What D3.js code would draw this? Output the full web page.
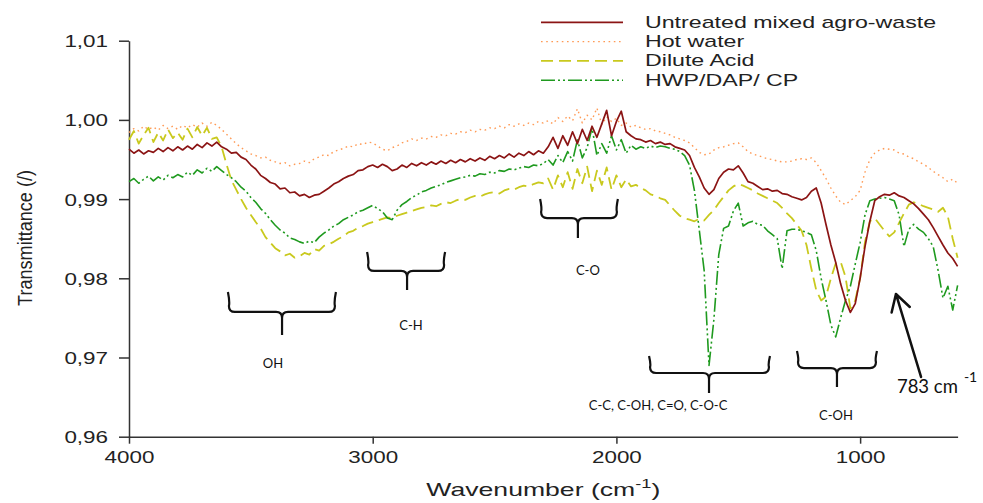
<!DOCTYPE html>
<html>
<head>
<meta charset="utf-8">
<script src="https://cdn.jsdelivr.net/npm/d3@7"></script>
<style>
  body { margin: 0; background: #fff; }
  svg { display: block; }
</style>
</head>
<body>
<svg id="chart" width="983" height="503"></svg>
<script>
// FTIR spectra of mixed agro-waste, sampled every 20 cm-1 from 4000 to 600 cm-1
const waveStart = 4000, waveEnd = 600, waveStep = 20;
const wavenumbers = d3.range(waveStart, waveEnd - 1, -waveStep);

const seriesNames = ["Untreated mixed agro-waste", "Hot water", "Dilute Acid", "HWP/DAP/ CP"];

const untreated = [
  0.9963,0.9958,0.9962,0.9957,0.9961,0.9959,0.9964,0.9960,0.9965,0.9961,
  0.9966,0.9962,0.9967,0.9963,0.9969,0.9965,0.9971,0.9967,0.9972,0.9966,
  0.9963,0.9958,0.9959,0.9953,0.9950,0.9943,0.9938,0.9930,0.9926,0.9921,
  0.9919,0.9913,0.9914,0.9908,0.9909,0.9904,0.9906,0.9902,0.9905,0.9906,
  0.9910,0.9914,0.9919,0.9922,0.9926,0.9929,0.9931,0.9936,0.9937,0.9941,
  0.9943,0.9940,0.9944,0.9941,0.9936,0.9938,0.9943,0.9940,0.9945,0.9942,
  0.9946,0.9943,0.9947,0.9944,0.9948,0.9945,0.9949,0.9946,0.9950,0.9947,
  0.9951,0.9948,0.9952,0.9949,0.9954,0.9951,0.9955,0.9952,0.9957,0.9953,
  0.9958,0.9955,0.9960,0.9956,0.9961,0.9958,0.9966,0.9978,0.9964,0.9980,
  0.9968,0.9985,0.9970,0.9988,0.9974,0.9992,0.9978,0.9995,1.0012,0.9980,
  0.9998,1.0011,0.9985,0.9980,0.9976,0.9975,0.9972,0.9974,0.9970,0.9972,
  0.9969,0.9970,0.9966,0.9964,0.9962,0.9955,0.9940,0.9928,0.9914,0.9906,
  0.9912,0.9926,0.9934,0.9938,0.9937,0.9942,0.9933,0.9922,0.9920,0.9916,
  0.9912,0.9913,0.9910,0.9911,0.9907,0.9906,0.9903,0.9901,0.9899,0.9902,
  0.9910,0.9914,0.9895,0.9868,0.9842,0.9820,0.9793,0.9772,0.9757,0.9768,
  0.9800,0.9840,0.9872,0.9898,0.9903,0.9906,0.9905,0.9908,0.9904,0.9902,
  0.9898,0.9894,0.9888,0.9881,0.9874,0.9864,0.9853,0.9842,0.9832,0.9825,
  0.9815
];

const hotWater = [
  0.9984,0.9989,0.9986,0.9992,0.9988,0.9991,0.9987,0.9993,0.9989,0.9992,
  0.9988,0.9993,0.9990,0.9994,0.9991,0.9996,0.9992,0.9997,0.9993,0.9988,
  0.9982,0.9976,0.9970,0.9965,0.9961,0.9957,0.9955,0.9952,0.9953,0.9949,
  0.9947,0.9945,0.9946,0.9942,0.9944,0.9945,0.9948,0.9946,0.9951,0.9953,
  0.9956,0.9955,0.9960,0.9962,0.9964,0.9967,0.9966,0.9970,0.9969,0.9972,
  0.9971,0.9967,0.9963,0.9961,0.9965,0.9967,0.9971,0.9973,0.9976,0.9974,
  0.9977,0.9976,0.9979,0.9978,0.9981,0.9980,0.9983,0.9982,0.9985,0.9984,
  0.9987,0.9985,0.9988,0.9987,0.9990,0.9989,0.9992,0.9990,0.9994,0.9992,
  0.9995,0.9993,0.9996,0.9994,0.9998,0.9996,0.9999,0.9995,1.0003,0.9998,
  1.0005,0.9999,1.0014,0.9996,1.0006,1.0000,1.0015,0.9994,1.0004,0.9998,
  1.0002,0.9993,0.9996,0.9991,0.9993,0.9990,0.9988,0.9989,0.9986,0.9985,
  0.9983,0.9981,0.9978,0.9976,0.9974,0.9971,0.9965,0.9959,0.9956,0.9957,
  0.9962,0.9965,0.9966,0.9968,0.9970,0.9971,0.9966,0.9960,0.9957,0.9955,
  0.9953,0.9951,0.9950,0.9948,0.9947,0.9947,0.9948,0.9950,0.9951,0.9950,
  0.9952,0.9946,0.9936,0.9926,0.9914,0.9904,0.9896,0.9893,0.9898,0.9903,
  0.9911,0.9934,0.9950,0.9958,0.9962,0.9964,0.9963,0.9962,0.9958,0.9957,
  0.9953,0.9951,0.9947,0.9944,0.9940,0.9935,0.9931,0.9927,0.9922,0.9925,
  0.9920
];

const diluteAcid = [
  0.9975,0.9986,0.9970,0.9981,0.9990,0.9972,0.9984,0.9974,0.9988,0.9977,
  0.9984,0.9975,0.9989,0.9978,0.9991,0.9980,0.9990,0.9976,0.9978,0.9966,
  0.9944,0.9924,0.9912,0.9900,0.9889,0.9880,0.9871,0.9863,0.9852,0.9845,
  0.9838,0.9834,0.9829,0.9831,0.9826,0.9828,0.9832,0.9830,0.9837,0.9835,
  0.9841,0.9843,0.9846,0.9850,0.9853,0.9858,0.9860,0.9864,0.9866,0.9869,
  0.9871,0.9873,0.9875,0.9877,0.9876,0.9879,0.9881,0.9883,0.9885,0.9887,
  0.9889,0.9890,0.9892,0.9891,0.9894,0.9896,0.9895,0.9898,0.9900,0.9899,
  0.9902,0.9904,0.9903,0.9906,0.9908,0.9909,0.9907,0.9911,0.9913,0.9912,
  0.9915,0.9917,0.9916,0.9919,0.9921,0.9920,0.9926,0.9912,0.9930,0.9915,
  0.9934,0.9913,0.9938,0.9920,0.9941,0.9910,0.9936,0.9918,0.9940,0.9912,
  0.9930,0.9915,0.9925,0.9916,0.9918,0.9914,0.9911,0.9906,0.9904,0.9901,
  0.9899,0.9892,0.9885,0.9879,0.9876,0.9874,0.9872,0.9875,0.9873,0.9880,
  0.9886,0.9895,0.9903,0.9911,0.9916,0.9919,0.9917,0.9914,0.9911,0.9907,
  0.9904,0.9901,0.9898,0.9895,0.9889,0.9882,0.9876,0.9868,0.9860,0.9842,
  0.9812,0.9785,0.9772,0.9777,0.9800,0.9819,0.9821,0.9802,0.9762,0.9772,
  0.9800,0.9846,0.9872,0.9876,0.9868,0.9860,0.9853,0.9858,0.9870,0.9882,
  0.9893,0.9896,0.9894,0.9891,0.9889,0.9887,0.9884,0.9889,0.9878,0.9850,
  0.9826
];

const hwpDapCp = [
  0.9922,0.9926,0.9920,0.9925,0.9929,0.9923,0.9928,0.9924,0.9930,0.9927,
  0.9931,0.9928,0.9934,0.9930,0.9937,0.9933,0.9939,0.9935,0.9941,0.9936,
  0.9931,0.9927,0.9922,0.9915,0.9910,0.9902,0.9896,0.9888,0.9882,0.9874,
  0.9867,0.9861,0.9857,0.9851,0.9849,0.9846,0.9844,0.9847,0.9845,0.9852,
  0.9857,0.9861,0.9866,0.9869,0.9874,0.9877,0.9880,0.9884,0.9886,0.9889,
  0.9892,0.9888,0.9884,0.9876,0.9874,0.9886,0.9893,0.9897,0.9902,0.9905,
  0.9909,0.9911,0.9914,0.9916,0.9918,0.9921,0.9923,0.9925,0.9927,0.9928,
  0.9930,0.9929,0.9932,0.9931,0.9934,0.9933,0.9936,0.9935,0.9938,0.9937,
  0.9939,0.9941,0.9940,0.9943,0.9942,0.9945,0.9950,0.9943,0.9955,0.9946,
  0.9960,0.9948,0.9975,0.9952,0.9965,0.9990,0.9955,0.9970,0.9958,0.9980,
  0.9962,0.9975,0.9958,0.9968,0.9963,0.9966,0.9964,0.9967,0.9965,0.9967,
  0.9966,0.9964,0.9963,0.9960,0.9955,0.9943,0.9911,0.9861,0.9810,0.9690,
  0.9748,0.9830,0.9863,0.9866,0.9885,0.9895,0.9866,0.9870,0.9872,0.9868,
  0.9867,0.9860,0.9855,0.9850,0.9812,0.9860,0.9862,0.9862,0.9860,0.9858,
  0.9855,0.9835,0.9800,0.9772,0.9741,0.9726,0.9750,0.9772,0.9790,0.9818,
  0.9845,0.9880,0.9898,0.9900,0.9901,0.9902,0.9900,0.9898,0.9880,0.9840,
  0.9862,0.9868,0.9862,0.9858,0.9850,0.9840,0.9810,0.9775,0.9790,0.9760,
  0.9791
];

const xTicks = [4000, 3000, 2000, 1000];
const yTicks = [0.96, 0.97, 0.98, 0.99, 1.00, 1.01];
const yTickLabels = ["0,96", "0,97", "0,98", "0,99", "1,00", "1,01"];

// Band assignments: bracket span (cm-1), bracket centre, levels [top, bar, tip], label and label anchor
const bandSpans = [[3590, 3155], [3019, 2707], [2309, 1998], [1862, 1374], [1255, 935]];
const bandCentres = [3372, 2859, 2158, 1620, 1095];
const bandLevels = [
  [0.97827, 0.97575, 0.97284],
  [0.98332, 0.98093, 0.97853],
  [0.99001, 0.98761, 0.98509],
  [0.97019, 0.96804, 0.96552],
  [0.97082, 0.96867, 0.96627]
];
const bandLabels = ["OH", "C-H", "C-O", "C-C, C-OH, C=O, C-O-C", "C-OH"];
const bandLabelAt = [[3409, 0.96867], [2843, 0.97347], [2117, 0.98042], [1829, 0.96337], [1099, 0.96211]];

// Pointer to the 783 cm-1 band
const peakLabel = "783 cm";
const peakLabelAt = [849, 0.96552];
const arrowTip = [853, 0.97802];
const arrowTail = [750, 0.96754];

const svg = d3.select("#chart");
const FONT = "'Liberation Sans', Arial, sans-serif";
const NOTE_FONT = "Lato, 'Open Sans', sans-serif";
const SX = 1.4; // horizontal stretch of the axis and legend lettering

const x = d3.scaleLinear().domain([waveStart, waveEnd]).range([129, 957.6]);
const y = d3.scaleLinear().domain([0.96, 1.01]).range([436.7, 40.7]);

svg.append("rect").attr("width", 983).attr("height", 503).attr("fill", "#fff");

// Axes
const gx = svg.append("g")
  .attr("transform", `translate(0,${y(0.96)})`)
  .call(d3.axisBottom(x).tickValues(xTicks).tickSize(7).tickSizeOuter(0).tickFormat(d3.format("d")));
gx.selectAll("text")
  .attr("y", null).attr("dy", null)
  .attr("transform", `translate(0,26.5) scale(${SX},1)`)
  .attr("font-size", 16).attr("font-family", FONT).attr("fill", "#222");

const gy = svg.append("g")
  .attr("transform", `translate(${x(waveStart)},0)`)
  .call(d3.axisLeft(y).tickValues(yTicks).tickSize(10).tickSizeOuter(0)
    .tickFormat((d, i) => yTickLabels[i]));
gy.selectAll("text")
  .attr("x", null).attr("dy", null)
  .attr("transform", `translate(-21,6) scale(${SX},1)`)
  .attr("font-size", 16).attr("font-family", FONT).attr("fill", "#222");

[gx, gy].forEach(g => {
  g.selectAll("path.domain, line").attr("stroke", "#333").attr("stroke-width", 1.5);
});

// Axis titles
const xTitle = svg.append("text")
  .attr("transform", `translate(${(x(waveStart) + x(waveEnd)) / 2},496) scale(${SX},1)`)
  .attr("text-anchor", "middle")
  .attr("font-family", FONT).attr("font-size", 19).attr("fill", "#222");
xTitle.append("tspan").text("Wavenumber (cm");
xTitle.append("tspan").attr("font-size", 13).attr("dy", -8).text("-1");
xTitle.append("tspan").attr("dy", 8).text(")");

svg.append("text")
  .attr("transform", `translate(32,238) rotate(-90) scale(1.13,1.25)`)
  .attr("text-anchor", "middle")
  .attr("font-family", FONT).attr("font-size", 16).attr("fill", "#222")
  .text("Transmittance (/)");

// Spectra
const seriesValues = [untreated, hotWater, diluteAcid, hwpDapCp];
const seriesColors = ["#8b1414", "#ff9a55", "#c9c91e", "#1f9a1f"];
const seriesDash = [null, "1.6,3.6", "12,6", "14,3,2,3,2,3"];
const seriesWidth = [1.7, 1.4, 1.8, 1.6];
const drawOrder = [1, 2, 3, 0];

const line = d3.line()
  .x((d, i) => x(wavenumbers[i]))
  .y(d => y(d));

drawOrder.forEach(k => {
  svg.append("path")
    .datum(seriesValues[k])
    .attr("d", line)
    .attr("fill", "none")
    .attr("stroke", seriesColors[k])
    .attr("stroke-width", seriesWidth[k])
    .attr("stroke-dasharray", seriesDash[k])
    .attr("stroke-linejoin", "round");
});

// Legend
const legend = svg.append("g");
seriesNames.forEach((name, k) => {
  const ly = 22.3 + 19.3 * k;
  legend.append("line")
    .attr("x1", 541).attr("x2", 623).attr("y1", ly).attr("y2", ly)
    .attr("stroke", seriesColors[k])
    .attr("stroke-width", seriesWidth[k])
    .attr("stroke-dasharray", seriesDash[k]);
  legend.append("text")
    .attr("transform", `translate(645,${ly + 5.5}) scale(1.45,1)`)
    .attr("font-family", FONT).attr("font-size", 16).attr("fill", "#222")
    .text(name);
});

// Band brackets
const notes = svg.append("g");
bandSpans.forEach((span, k) => {
  const x1 = x(span[0]), x2 = x(span[1]), xc = x(bandCentres[k]);
  const [top, bar, tip] = bandLevels[k].map(y);
  const r = 6;
  const p = d3.path();
  p.moveTo(x1 - 1, top);
  p.quadraticCurveTo(x1 + 1, top + (bar - top) * 0.5, x1, bar - r);
  p.quadraticCurveTo(x1, bar, x1 + r, bar);
  p.lineTo(xc - r, bar);
  p.quadraticCurveTo(xc, bar, xc, bar + r);
  p.lineTo(xc, tip);
  p.moveTo(xc, bar + r);
  p.quadraticCurveTo(xc, bar, xc + r, bar);
  p.lineTo(x2 - r, bar);
  p.quadraticCurveTo(x2, bar, x2, bar - r);
  p.quadraticCurveTo(x2 - 1, top + (bar - top) * 0.5, x2 + 1, top);
  notes.append("path")
    .attr("d", p.toString())
    .attr("fill", "none").attr("stroke", "#111").attr("stroke-width", 2.2);
  notes.append("text")
    .attr("x", x(bandLabelAt[k][0])).attr("y", y(bandLabelAt[k][1]))
    .attr("text-anchor", "middle")
    .attr("font-family", NOTE_FONT).attr("font-size", 13).attr("fill", "#111")
    .text(bandLabels[k]);
});

// Arrow to the 783 cm-1 band
const tip = [x(arrowTip[0]), y(arrowTip[1])];
const tail = [x(arrowTail[0]), y(arrowTail[1])];
const ang = Math.atan2(tail[1] - tip[1], tail[0] - tip[0]);
const barb = 19, spread = Math.PI / 6;
const ap = d3.path();
ap.moveTo(tail[0], tail[1]);
ap.lineTo(tip[0], tip[1]);
ap.moveTo(tip[0] + barb * Math.cos(ang - spread), tip[1] + barb * Math.sin(ang - spread));
ap.lineTo(tip[0], tip[1]);
ap.lineTo(tip[0] + barb * Math.cos(ang + spread), tip[1] + barb * Math.sin(ang + spread));
notes.append("path")
  .attr("d", ap.toString())
  .attr("fill", "none").attr("stroke", "#111").attr("stroke-width", 2.5)
  .attr("stroke-linecap", "round").attr("stroke-linejoin", "round");

// Label with its superscript unit power kept in one text element
const px = x(peakLabelAt[0]), py = y(peakLabelAt[1]);
const peakText = notes.append("text")
  .attr("x", px).attr("y", py)
  .attr("font-family", NOTE_FONT).attr("fill", "#111");
peakText.append("tspan")
  .attr("font-size", 19).attr("textLength", 61).attr("lengthAdjust", "spacingAndGlyphs")
  .text(peakLabel);
peakText.append("tspan")
  .attr("font-size", 14).attr("dx", 6).attr("dy", -11)
  .text("-1");
</script>
</body>
</html>
